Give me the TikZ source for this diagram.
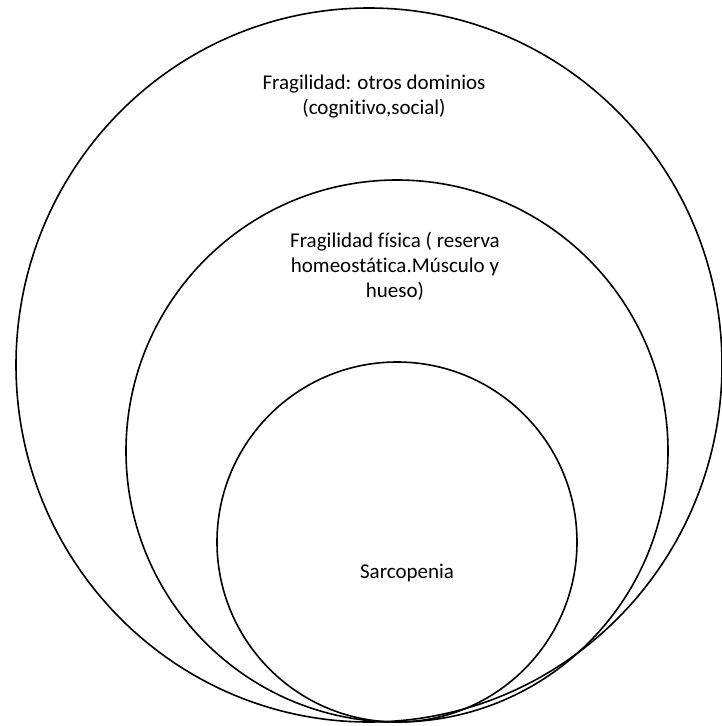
\documentclass[tikz,border=0pt]{standalone}
\usepackage{fontspec}
\setmainfont{Carlito}[Ligatures={NoCommon}]
\usetikzlibrary{positioning}

\begin{document}
\begin{tikzpicture}[x=1pt,y=-1pt,
every node/.style={align=center,font=\fontsize{21}{25}\selectfont}]
\useasboundingbox (0,0) rectangle (721,726);
% nested domains
\draw[line width=1.6pt] (369,365) ellipse [x radius=353, y radius=357];
\draw[line width=1.6pt] (397,451) circle [radius=271pt];
\draw[line width=1.6pt] (397,542) circle [radius=180pt];
\node (L1) at (374,97) {Fragilidad: otros dominios\\(cognitivo,social)};
\node (L2) at (395,266) {Fragilidad física ( reserva\\homeostática.Músculo y\\hueso)};
\node (L3) at (407,573) {Sarcopenia};
\end{tikzpicture}
\end{document}
